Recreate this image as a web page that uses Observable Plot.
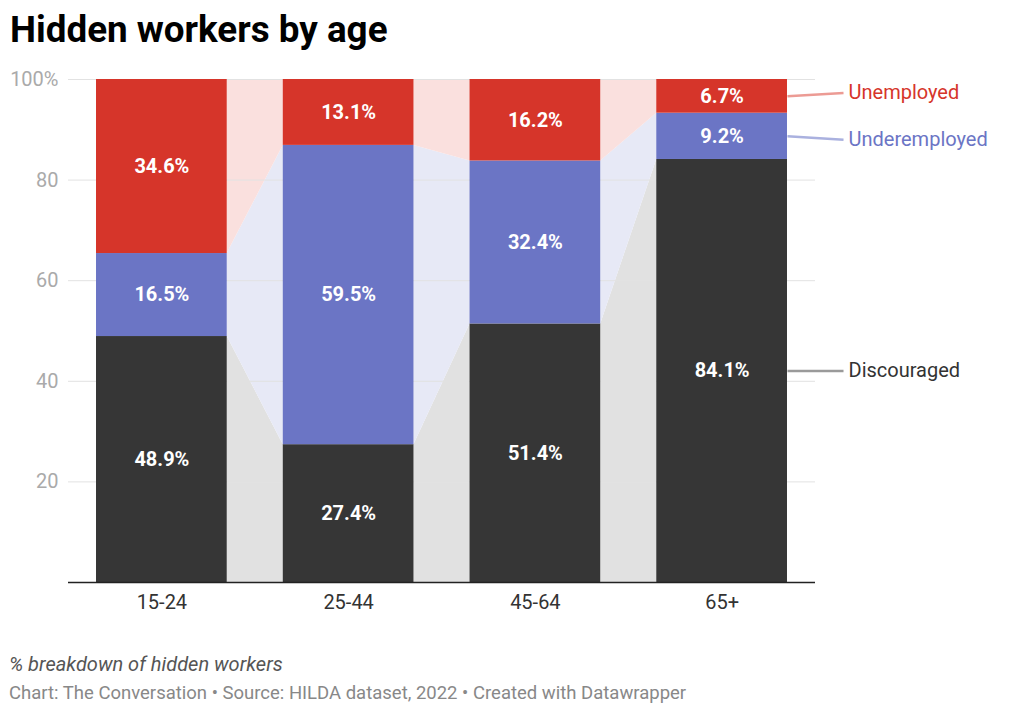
<!DOCTYPE html>
<html><head><meta charset="utf-8">
<script src="https://cdn.jsdelivr.net/npm/d3@7"></script>
<script src="https://cdn.jsdelivr.net/npm/@observablehq/plot@0.6"></script>
<style>
body{margin:0;background:#fff;font-family:Roboto,sans-serif;width:1024px;height:715px;position:relative;overflow:hidden;}
#title{position:absolute;left:10px;top:11px;font-size:36.8px;line-height:37px;font-weight:700;color:#000;white-space:nowrap;}
#chart{position:absolute;left:0;top:60px;}
#note{position:absolute;left:9px;top:654px;font-size:20px;line-height:20px;font-style:italic;color:#555;white-space:nowrap;}
#source{position:absolute;left:9px;top:684px;font-size:18.5px;line-height:18.5px;color:#888;white-space:nowrap;}
</style></head><body>
<div id="title">Hidden workers by age</div>
<div id="chart"></div>
<div id="note">% breakdown of hidden workers</div>
<div id="source">Chart: The Conversation • Source: HILDA dataset, 2022 • Created with Datawrapper</div>
<script>
const ages = ["15-24", "25-44", "45-64", "65+"];
const seriesNames = ["Discouraged", "Underemployed", "Unemployed"];
const discouraged = [48.9, 27.4, 51.4, 84.1];
const underemployed = [16.5, 59.5, 32.4, 9.2];
const unemployed = [34.6, 13.1, 16.2, 6.7];
const yTicks = [20, 40, 60, 80, 100];

const values = {Discouraged: discouraged, Underemployed: underemployed, Unemployed: unemployed};
const col = {Discouraged: "#363636", Underemployed: "#6b75c5", Unemployed: "#d6352a"};
const pale = {Discouraged: "#e1e1e1", Underemployed: "#e7e9f6", Unemployed: "#fae0de"};
const lineCol = {Discouraged: "#9a9a9a", Underemployed: "#aab1df", Unemployed: "#ec9b94"};
const textCol = {Discouraged: "#333333", Underemployed: "#6b75c5", Unemployed: "#d6352a"};
const half = 0.35;      // half bar width, in category units
const connector = 0.3;  // length of label connector, in category units

// stacked rows
const rows = [];
ages.forEach((a, i) => {
  let cum = 0;
  seriesNames.forEach(s => {
    const v = values[s][i];
    rows.push({age: a, i, s, v, y1: cum, y2: cum + v, x1: i + 0.5 - half, x2: i + 0.5 + half});
    cum += v;
  });
});
const get = (i, s) => rows.find(r => r.i === i && r.s === s);

// connecting bands between bars
const bands = [];
for (let i = 0; i < ages.length - 1; i++) {
  seriesNames.forEach(s => {
    const a = get(i, s), b = get(i + 1, s);
    bands.push({key: s + i, s, x: a.x2, y1: a.y1, y2: a.y2});
    bands.push({key: s + i, s, x: b.x1, y1: b.y1, y2: b.y2});
  });
}

// series labels at right of last bar, dodged apart
const last = ages.length - 1;
const legend = seriesNames.map(s => {
  const r = get(last, s);
  const mid = (r.y1 + r.y2) / 2;
  return {s, mid, ly: mid, x: r.x2};
});
const minGap = 9.3;
for (let k = 1; k < legend.length; k++) {
  const a = legend[k - 1], b = legend[k];
  if (b.ly - a.ly < minGap) {
    const c = (a.ly + b.ly) / 2;
    a.ly = c - minGap / 2;
    b.ly = c + minGap / 2;
  }
}

const chart = Plot.plot({
  width: 1024,
  height: 580,
  marginTop: 19,
  marginBottom: 58,
  marginLeft: 68,
  marginRight: 209,
  x: {domain: [0, ages.length]},
  y: {domain: [0, 100]},
  color: {type: "identity"},
  style: {fontFamily: "Roboto, sans-serif", fontSize: "20px", background: "white"},
  marks: [
    Plot.areaY(bands, {x: "x", y1: "y1", y2: "y2", z: "key", fill: d => pale[d.s]}),
    Plot.gridY(yTicks, {stroke: "#e2e2e2", strokeOpacity: 1}),
    Plot.rect(rows, {x1: "x1", x2: "x2", y1: "y1", y2: "y2", fill: d => col[d.s]}),
    Plot.ruleY([0], {stroke: "#222", strokeWidth: 1.5}),
    Plot.text(rows, {x: d => (d.x1 + d.x2) / 2, y: d => (d.y1 + d.y2) / 2, text: d => d.v.toFixed(1) + "%",
      fill: "white", fontWeight: "bold", fontSize: 20}),
    Plot.axisY(yTicks, {tickSize: 0, tickPadding: 10, tickFormat: d => d === 100 ? "100%" : String(d),
      fill: "#aaaaaa", fontSize: 20, label: null}),
    Plot.axisX(ages.map((a, i) => i + 0.5), {tickSize: 0, tickPadding: 12, tickFormat: d => ages[Math.floor(d)],
      fill: "#333", fontSize: 20, label: null}),
    Plot.link(legend, {x1: "x", y1: "mid", x2: d => d.x + connector, y2: "ly", stroke: d => lineCol[d.s], strokeWidth: 2.5}),
    Plot.text(legend, {x: d => d.x + connector, y: "ly", text: "s", textAnchor: "start", dx: 5,
      fill: d => textCol[d.s], fontSize: 20})
  ]
});
document.getElementById("chart").appendChild(chart);
</script>
</body></html>
